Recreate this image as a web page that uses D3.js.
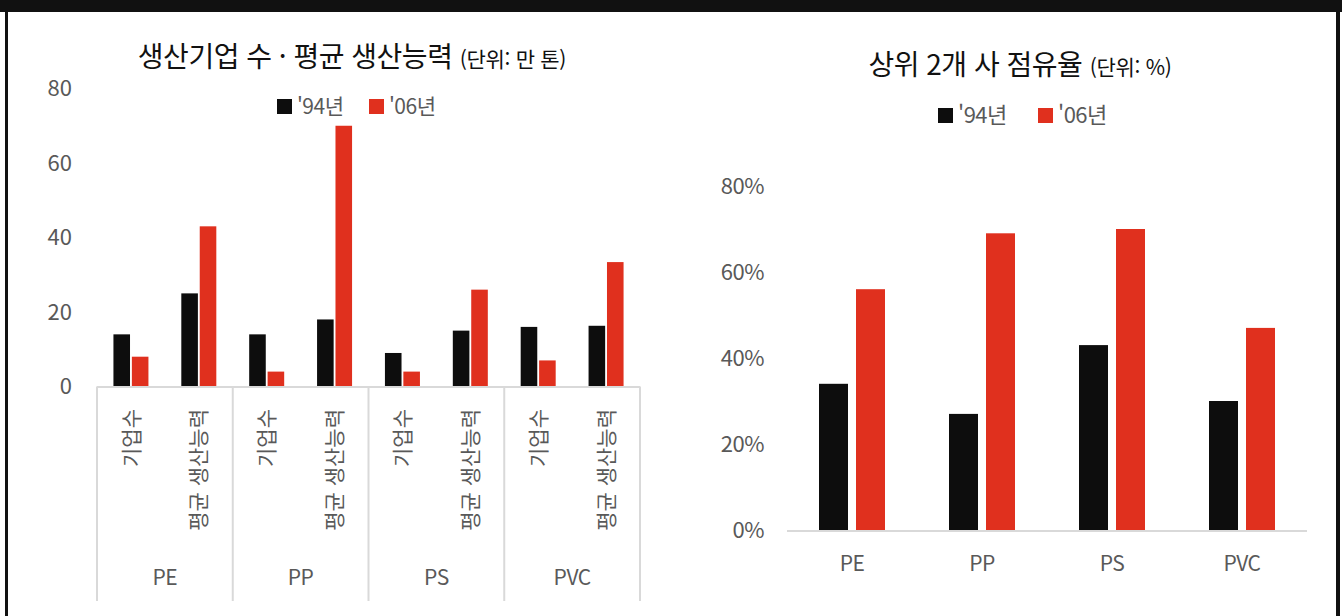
<!DOCTYPE html>
<html lang="ko">
<head>
<meta charset="utf-8">
<script src="https://cdn.jsdelivr.net/npm/d3@7"></script>
<style>
  html, body { margin: 0; padding: 0; background: #fff; }
  svg { display: block; }
  text { font-family: "Noto Sans CJK KR", "Noto Sans", sans-serif; }
</style>
</head>
<body>
<svg id="chart" width="1342" height="616"></svg>
<script>
// Resin categories
const resins = ["PE", "PP", "PS", "PVC"];
const measures = ["기업수", "평균 생산능력"];
const seriesNames = ["'94년", "'06년"];
const seriesColors = ["#0d0d0d", "#e0301e"];

// Number of producers (companies)
const firms94 = [14, 14, 9, 16];
const firms06 = [8, 4, 4, 7];
// Average production capacity (10k tons)
const capacity94 = [25, 18, 15, 16.3];
const capacity06 = [43, 70, 26, 33.4];

// Top-2 producers' market share (%)
const share94 = [34, 27, 43, 30];
const share06 = [56, 69, 70, 47];

const leftTicks = [0, 20, 40, 60, 80];
const rightTicks = [0, 20, 40, 60, 80];

const svg = d3.select("#chart");
const axisGray = "#d9d9d9";
const labelGray = "#595959";

// Frame
svg.append("rect").attr("x", 0).attr("y", 0).attr("width", 1342).attr("height", 12).attr("fill", "#111");
svg.append("rect").attr("x", 5).attr("y", 0).attr("width", 3).attr("height", 616).attr("fill", "#111");
svg.append("rect").attr("x", 1336).attr("y", 0).attr("width", 4).attr("height", 616).attr("fill", "#111");

function legend(g, x, y, gap, size) {
  const item = g.append("g").attr("transform", `translate(${x},${y})`);
  seriesNames.forEach((name, i) => {
    const it = item.append("g").attr("transform", `translate(${i * gap},0)`);
    it.append("rect").attr("x", 0).attr("y", -7).attr("width", 15).attr("height", 15).attr("fill", seriesColors[i]);
    it.append("text").attr("x", 20).attr("y", 0).attr("dy", "0.38em")
      .attr("font-size", size).attr("fill", labelGray).attr("letter-spacing", "-0.5px").text(name);
  });
}

function title(g, cx, y, main, unit) {
  const t = g.append("text").attr("x", cx).attr("y", y).attr("text-anchor", "middle").attr("fill", "#111");
  t.append("tspan").attr("font-size", 28).attr("letter-spacing", "-0.5px").text(main + " ");
  t.append("tspan").attr("font-size", 21).attr("letter-spacing", "-0.3px").text(unit);
}

// ---------- Left chart: producers and average capacity ----------
const left = svg.append("g");
title(left, 352, 67, "생산기업 수 · 평균 생산능력", "(단위: 만 톤)");
legend(left, 277, 106, 92, 21);

const yL = d3.scaleLinear().domain([0, 80]).range([386.5, 88.5]);
const xL0 = d3.scaleBand().domain(resins).range([97, 640]);
const xL1 = d3.scaleBand().domain(measures).range([0, xL0.bandwidth()]);
const xL2 = d3.scaleBand().domain(seriesNames).range([0, 35]).paddingInner(0.1);
const innerOffL = (xL1.bandwidth() - 35) / 2;

const leftRows = [];
resins.forEach((r, i) => {
  leftRows.push({ resin: r, measure: measures[0], vals: [firms94[i], firms06[i]] });
  leftRows.push({ resin: r, measure: measures[1], vals: [capacity94[i], capacity06[i]] });
});

left.append("g").selectAll("text").data(leftTicks).join("text")
  .attr("x", 72).attr("y", d => yL(d)).attr("dy", "0.36em").attr("text-anchor", "end")
  .attr("font-size", 22).attr("fill", labelGray).text(d => d);

leftRows.forEach(row => {
  const gx = xL0(row.resin) + xL1(row.measure) + innerOffL;
  row.vals.forEach((v, s) => {
    left.append("rect")
      .attr("x", gx + xL2(seriesNames[s])).attr("width", xL2.bandwidth())
      .attr("y", yL(v)).attr("height", yL(0) - yL(v))
      .attr("fill", seriesColors[s]);
  });
  const cx = xL0(row.resin) + xL1(row.measure) + xL1.bandwidth() / 2;
  left.append("text")
    .attr("transform", `translate(${cx},409) rotate(-90)`)
    .attr("text-anchor", "end").attr("dy", "0.36em")
    .attr("font-size", 21).attr("fill", labelGray)
    .text(row.measure);
});

// axis line and group separators
left.append("line").attr("x1", 97).attr("x2", 640).attr("y1", yL(0) + 0.5).attr("y2", yL(0) + 0.5)
  .attr("stroke", axisGray).attr("stroke-width", 2);
const seps = resins.map(r => xL0(r)).concat([xL0.range()[1]]);
left.append("g").selectAll("line").data(seps).join("line")
  .attr("x1", d => d).attr("x2", d => d).attr("y1", yL(0)).attr("y2", 601)
  .attr("stroke", axisGray).attr("stroke-width", 2);
left.append("g").selectAll("text").data(resins).join("text")
  .attr("x", d => xL0(d) + xL0.bandwidth() / 2).attr("y", 577).attr("dy", "0.36em")
  .attr("text-anchor", "middle").attr("font-size", 21).attr("fill", labelGray)
  .attr("letter-spacing", "-0.5px").text(d => d);

// ---------- Right chart: top-2 share ----------
const right = svg.append("g");
title(right, 1020, 75, "상위 2개 사 점유율", "(단위: %)");
legend(right, 938, 115, 100, 22);

const yR = d3.scaleLinear().domain([0, 80]).range([530, 186]);
const xR0 = d3.scaleBand().domain(resins).range([787, 1307]);
const xR1 = d3.scaleBand().domain(seriesNames).range([0, 66]).paddingInner(8 / 37);
const innerOffR = (xR0.bandwidth() - 66) / 2;

right.append("g").selectAll("text").data(rightTicks).join("text")
  .attr("x", 764).attr("y", d => yR(d)).attr("dy", "0.36em").attr("text-anchor", "end")
  .attr("font-size", 22).attr("fill", labelGray).attr("letter-spacing", "-0.5px").text(d => d + "%");

resins.forEach((r, i) => {
  [share94[i], share06[i]].forEach((v, s) => {
    right.append("rect")
      .attr("x", xR0(r) + innerOffR + xR1(seriesNames[s])).attr("width", xR1.bandwidth())
      .attr("y", yR(v)).attr("height", yR(0) - yR(v))
      .attr("fill", seriesColors[s]);
  });
});

right.append("line").attr("x1", 787).attr("x2", 1307).attr("y1", yR(0) + 1).attr("y2", yR(0) + 1)
  .attr("stroke", axisGray).attr("stroke-width", 2);
right.append("g").selectAll("text").data(resins).join("text")
  .attr("x", d => xR0(d) + xR0.bandwidth() / 2).attr("y", 563).attr("dy", "0.36em")
  .attr("text-anchor", "middle").attr("font-size", 21).attr("fill", labelGray)
  .attr("letter-spacing", "-0.5px").text(d => d);
</script>
</body>
</html>
